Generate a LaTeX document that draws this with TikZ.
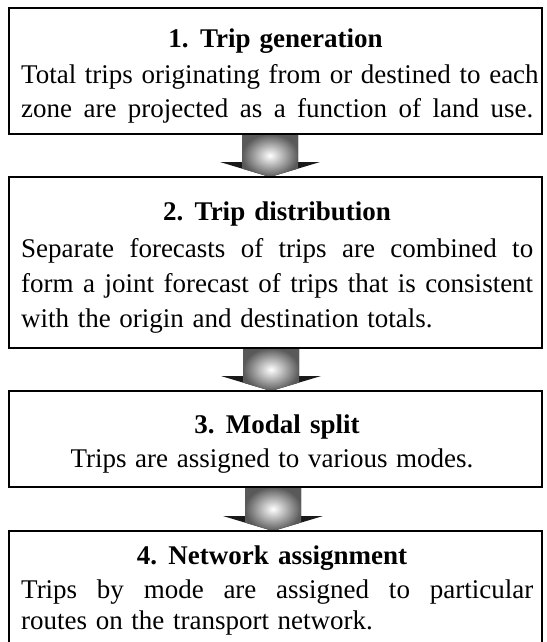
\documentclass[tikz,border=0pt]{standalone}
\usepackage{fontspec}
\setmainfont{Liberation Serif}
\usetikzlibrary{calc}

\newcommand{\bodyfont}{\fontsize{27}{33}\selectfont}
\newcommand{\wsp}[1]{\spaceskip=#1em plus 0.5em\relax}

\tikzset{
  stagebox/.style={draw, line width=1.3pt, minimum width=533pt, anchor=north west, inner sep=0pt, outer sep=0pt},
  ttl/.style={anchor=base, inner sep=0pt, font=\bodyfont\bfseries},
  jline/.style={anchor=base west, inner sep=0pt, font=\bodyfont},
  cline/.style={anchor=base, inner sep=0pt, font=\bodyfont},
  arrowwing/.style={fill=black!90},
  arrowbody/.style={inner color=white, outer color=black!65},
}

\newcommand{\flowarrow}[2]{%
  \fill[arrowwing] let \p1=(#1), \p2=(#2) in
    (\x1-28pt,\y1) -- (\x1+28pt,\y1) -- (\x1+28pt,\y2+15pt) -- (\x1+50pt,\y2+15pt)
    -- (\x2,\y2) -- (\x1-50pt,\y2+15pt) -- (\x1-28pt,\y2+15pt) -- cycle;
  \shade[arrowbody] let \p1=(#1), \p2=(#2) in
    (\x1-28pt,\y1) -- (\x1+28pt,\y1) -- (\x1+28pt,\y2+8.4pt)
    -- (\x2,\y2) -- (\x1-28pt,\y2+8.4pt) -- cycle;
}

\begin{document}
\begin{tikzpicture}[x=1pt,y=-1pt]
\useasboundingbox (0,0) rectangle (546,642);
\fill[white] (0,0) rectangle (546,642);

% boxes
\node[stagebox, minimum height=126pt] (b1) at (9,8) {};
\node[stagebox, minimum height=171pt] (b2) at (9,177) {};
\node[stagebox, minimum height=96pt]  (b3) at (9,391) {};
\node[stagebox, minimum height=125pt] (b4) at (9,531) {};

% arrow anchor points
\coordinate (a1s) at ($(b1.south west)+(261,0)$);
\coordinate (a1e) at ($(b2.north west)+(261,0)$);
\coordinate (a2s) at ($(b2.south west)+(262,0)$);
\coordinate (a2e) at ($(b3.north west)+(262,0)$);
\coordinate (a3s) at ($(b3.south west)+(264,0)$);
\coordinate (a3e) at ($(b4.north west)+(264,0)$);

\flowarrow{a1s}{a1e}
\flowarrow{a2s}{a2e}
\flowarrow{a3s}{a3e}

% redraw borders over arrow ends
\draw[line width=1.3pt] (b1.north west) rectangle (b1.south east);
\draw[line width=1.3pt] (b2.north west) rectangle (b2.south east);
\draw[line width=1.3pt] (b3.north west) rectangle (b3.south east);
\draw[line width=1.3pt] (b4.north west) rectangle (b4.south east);

% box 1
\node[ttl] (t1) at (275.5,48) {\wsp{0.34}1. Trip generation};
\node[jline] (l11) at (21,83) {\wsp{0.32}\makebox[512pt][s]{Total trips originating from or destined to each}};
\node[jline] (l12) at (21,117) {\wsp{0.32}\makebox[512pt][s]{zone are projected as a function of land use.}};

% box 2
\node[ttl] (t2) at (277,220) {\wsp{0.34}2. Trip distribution};
\node[jline] (l21) at (21,257) {\wsp{0.32}\makebox[512pt][s]{Separate forecasts of trips are combined to}};
\node[jline] (l22) at (21,292) {\wsp{0.32}\makebox[512pt][s]{form a joint forecast of trips that is consistent}};
\node[jline] (l23) at (21,327) {\wsp{0.32}with the origin and destination totals.};

% box 3
\node[ttl] (t3) at (277,433) {\wsp{0.34}3. Modal split};
\node[cline] (l31) at (272,467) {\wsp{0.32}Trips are assigned to various modes.};

% box 4
\node[ttl] (t4) at (272,564) {\wsp{0.34}4. Network assignment};
\node[jline] (l41) at (21,598) {\wsp{0.32}\makebox[512pt][s]{Trips by mode are assigned to particular}};
\node[jline] (l42) at (21,629) {\wsp{0.32}routes on the transport network.};
\end{tikzpicture}
\end{document}
